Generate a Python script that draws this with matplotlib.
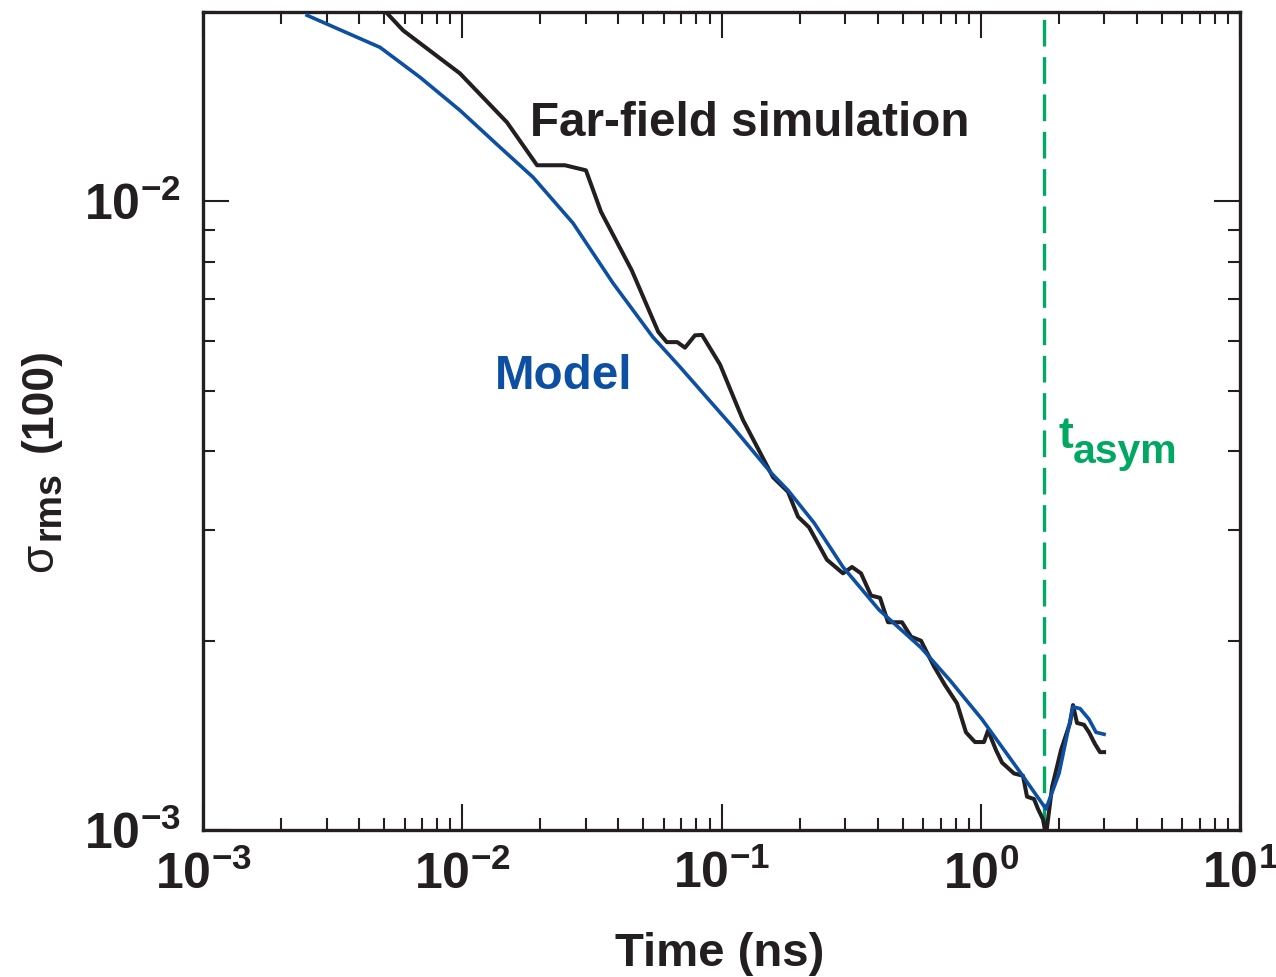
import matplotlib
matplotlib.use('Agg')
import matplotlib.pyplot as plt
from matplotlib.ticker import LogLocator, LogFormatterMathtext, NullFormatter

# far-field simulation (time in ns, sigma_rms)
sim_t = [0.0048, 0.00591, 0.0098, 0.01488, 0.01943, 0.0249, 0.0300, 0.0343, 0.0451, 0.0570,
         0.0615, 0.0675, 0.0723, 0.079, 0.0841, 0.0987, 0.1160, 0.121, 0.158, 0.1805,
         0.1973, 0.2176, 0.2552, 0.2942, 0.3187, 0.3452, 0.3773, 0.4089, 0.4388, 0.4969,
         0.5383, 0.5883, 0.6603, 0.728, 0.8099, 0.877, 0.9502, 1.029, 1.067, 1.145, 1.208,
         1.344, 1.455, 1.508, 1.605, 1.663, 1.738, 1.785, 1.884, 2.04, 2.21, 2.269, 2.351,
         2.502, 2.616, 2.759, 2.884, 2.99]
sim_sigma = [0.0205, 0.0187, 0.01597, 0.01335, 0.01141, 0.01141, 0.0112, 0.00962, 0.00776, 0.00620,
             0.00597, 0.00597, 0.00585, 0.00612, 0.00613, 0.00550, 0.00468, 0.00449, 0.00364, 0.00345,
             0.00315, 0.00303, 0.00269, 0.00256, 0.00262, 0.00256, 0.00236, 0.00234, 0.00214, 0.00214,
             0.00203, 0.002, 0.00182, 0.0017, 0.00159, 0.00143, 0.00138, 0.00138, 0.00144, 0.00134, 0.00128,
             0.00123, 0.00122, 0.00113, 0.00112, 0.00108, 0.00104, 0.00098, 0.00117, 0.00134, 0.00148, 0.00158, 0.00148,
             0.00147, 0.00143, 0.00137, 0.00133, 0.00133]

# model
model_t = [0.00252, 0.00482, 0.00687, 0.0098, 0.01398, 0.01875, 0.02675, 0.03815, 0.0544,
           0.0692, 0.1108, 0.1552, 0.1805, 0.2275, 0.2942, 0.405, 0.5883, 0.7609, 1.011, 1.43,
           1.785, 2.004, 2.269, 2.415, 2.616, 2.784, 2.99]
model_sigma = [0.01976, 0.01757, 0.01575, 0.01395, 0.01219, 0.01092, 0.00923, 0.00741, 0.00608,
               0.00545, 0.00437, 0.0037, 0.00347, 0.00308, 0.00262, 0.00224, 0.00195, 0.00173, 0.0015, 0.00123,
               0.00108, 0.00123, 0.00157, 0.00156, 0.0015, 0.00143, 0.00142]

t_asym = 1.75

BLACK = '#231f20'
BLUE = '#0d4fa3'
GREEN = '#00a862'

plt.rcParams['font.family'] = 'Liberation Sans'
plt.rcParams['font.weight'] = 'bold'
plt.rcParams['axes.labelweight'] = 'bold'
plt.rcParams['mathtext.fontset'] = 'custom'
plt.rcParams['mathtext.rm'] = 'Liberation Sans:bold'
plt.rcParams['mathtext.bf'] = 'Liberation Sans:bold'
plt.rcParams['mathtext.it'] = 'Liberation Sans:bold'
plt.rcParams['mathtext.sf'] = 'Liberation Sans:bold'
plt.rcParams['mathtext.default'] = 'rm'

fig = plt.figure(figsize=(12.76, 9.77), dpi=100)
ax = fig.add_axes([203 / 1276, 1 - 830 / 977, 1037 / 1276, 818 / 977])

ax.plot(sim_t, sim_sigma, color=BLACK, lw=2.9, solid_joinstyle='round', zorder=3)
ax.plot(model_t, model_sigma, color=BLUE, lw=2.6, solid_joinstyle='round', zorder=4)
ax.axvline(t_asym, color=GREEN, lw=2.4, dashes=(8, 3.2), zorder=2)

ax.set_xscale('log')
ax.set_yscale('log')
ax.set_xlim(1e-3, 1e1)
ax.set_ylim(1e-3, 2e-2)

ax.xaxis.set_major_locator(LogLocator(base=10, numticks=10))
ax.xaxis.set_minor_locator(LogLocator(base=10, subs=range(2, 10), numticks=20))
ax.yaxis.set_major_locator(LogLocator(base=10, numticks=10))
ax.yaxis.set_minor_locator(LogLocator(base=10, subs=range(2, 10), numticks=20))
ax.xaxis.set_major_formatter(LogFormatterMathtext())
ax.yaxis.set_major_formatter(LogFormatterMathtext())
ax.xaxis.set_minor_formatter(NullFormatter())
ax.yaxis.set_minor_formatter(NullFormatter())

ax.tick_params(which='both', direction='in', top=True, right=True, color=BLACK)
ax.tick_params(which='major', length=19, width=1.5, labelsize=36, labelcolor=BLACK)
ax.tick_params(which='minor', length=8.5, width=1.5)
ax.tick_params(axis='x', which='major', pad=15)
ax.tick_params(axis='y', which='major', pad=16)
for s in ax.spines.values():
    s.set_linewidth(2.4)
    s.set_color(BLACK)

ax.set_xlabel('Time (ns)', fontsize=34, color=BLACK)
ax.xaxis.set_label_coords(0.4985, -0.1247)

# y label built from pieces: sigma, subscript rms, (100)
ax.text(-0.1456, 0.3154, '\u03c3', transform=ax.transAxes, rotation=90, rotation_mode='anchor',
        ha='left', va='baseline', fontsize=33, fontweight='normal', color=BLACK)
ax.text(-0.1379, 0.3545, 'rms', transform=ax.transAxes, rotation=90, rotation_mode='anchor',
        ha='left', va='baseline', fontsize=27, color=BLACK)
ax.text(-0.1456, 0.462, '(100)', transform=ax.transAxes, rotation=90, rotation_mode='anchor',
        ha='left', va='baseline', fontsize=32, color=BLACK)

ax.text(0.3153, 0.848, 'Far-field simulation', transform=ax.transAxes, fontsize=34.3,
        color=BLACK, ha='left', va='baseline')
ax.text(0.2816, 0.539, 'Model', transform=ax.transAxes, fontsize=34.3,
        color=BLUE, ha='left', va='baseline')
ax.text(0.8245, 0.467, 't', transform=ax.transAxes, fontsize=32,
        color=GREEN, ha='left', va='baseline')
ax.text(0.839, 0.4487, 'asym', transform=ax.transAxes, fontsize=29.5,
        color=GREEN, ha='left', va='baseline')

fig.savefig('out.png', dpi=100)
